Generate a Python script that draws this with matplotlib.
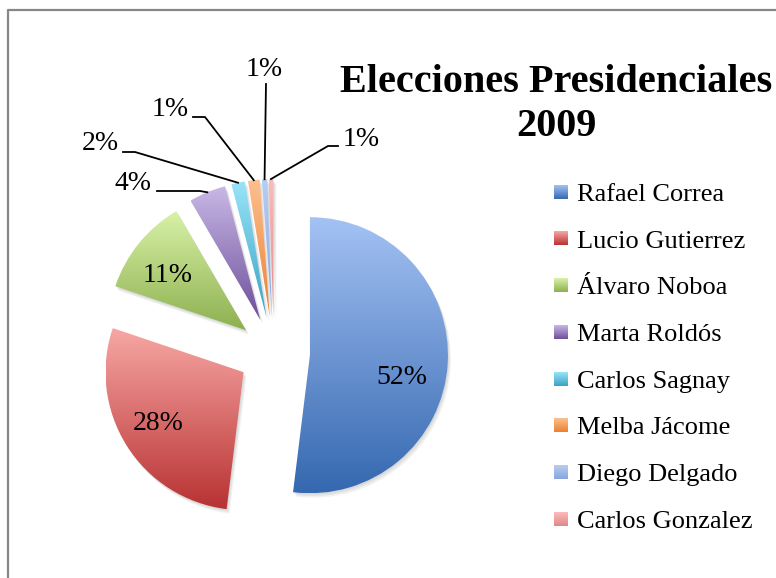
import numpy as np
import matplotlib.pyplot as plt
from matplotlib.patches import Wedge
from matplotlib.lines import Line2D
from matplotlib.colors import to_rgb

# Resultados 2009 (porcentaje de votos validos)
candidatos = ['Rafael Correa', 'Lucio Gutierrez', 'Álvaro Noboa', 'Marta Roldós',
              'Carlos Sagnay', 'Melba Jácome', 'Diego Delgado', 'Carlos Gonzalez']
votos = [51.99, 28.24, 11.41, 4.33, 1.57, 1.35, 0.63, 0.55]

# gradient colours, light on top -> dark at the bottom
color_top = ['#a4c2f4', '#f7a8a5', '#d8f2a8', '#c8b8e6', '#98e4f8', '#fcc090', '#b8cdf2', '#fbbcbc']
color_bot = ['#3568b0', '#b83232', '#8eb050', '#6e4f9a', '#3aa2c4', '#ec8030', '#88a6dc', '#e08888']

W, H = 776, 578
serif = ['Liberation Serif', 'DejaVu Serif']

fig = plt.figure(figsize=(W / 100, H / 100), dpi=100)
ax = fig.add_axes([0, 0, 1, 1])

# pie in pixel-like data units (explode is absolute here, not relative)
cx, cy, r = 274, H - 353, 138
wedges, texts, autotexts = ax.pie(votos, center=(cx, cy), radius=r, startangle=90,
                                  counterclock=False, explode=[36] * len(votos),
                                  autopct=lambda p: '%.0f%%' % p, pctdistance=0.69,
                                  textprops=dict(fontsize=20, family=serif))

n = 256
t = np.linspace(0, 1, n)[:, None]


def gradient(ct, cb):
    return ((1 - t) * np.array(to_rgb(cb)) + t * np.array(to_rgb(ct)))[:, None, :]


# soft shadow + gradient fill clipped to each wedge
for w, ct, cb in zip(wedges, color_top, color_bot):
    for dx, dy in [(1, -1.5), (2, -3), (3, -4.5)]:
        ax.add_patch(Wedge((w.center[0] + dx, w.center[1] + dy), w.r, w.theta1, w.theta2,
                           facecolor='k', edgecolor='none', alpha=0.05, zorder=0.5))
    w.set_facecolor('none')
    w.set_edgecolor('none')
    x0, y0, x1, y1 = w.get_path().get_extents().extents
    im = ax.imshow(gradient(ct, cb), extent=(x0, x1, y0, y1), origin='lower', aspect='auto',
                   interpolation='bilinear', zorder=1)
    im.set_clip_path(w)

# inner labels (screen px positions)
inner_pos = {0: (402, 378), 1: (158, 423), 2: (168, 276)}
for i, (x, y) in inner_pos.items():
    autotexts[i].set_position((x, H - y))
    autotexts[i].set_ha('center')
    autotexts[i].set_va('center')

# outer labels with leader lines: text centre, line start, elbow (screen px)
outer = {
    3: ((133, 183), (157, 191), (200, 191)),
    4: ((100, 144), (123, 152), (135, 152)),
    5: ((170, 110), (193, 117), (205, 117)),
    6: ((264, 70), (266, 84), (266, 84)),
    7: ((361, 140), (338, 146), (328, 146)),
}
for i, (tpos, p0, p1) in outer.items():
    w = wedges[i]
    mid = np.deg2rad((w.theta1 + w.theta2) / 2)
    anchor = (w.center[0] + w.r * np.cos(mid), w.center[1] + w.r * np.sin(mid))
    autotexts[i].set_position((tpos[0], H - tpos[1]))
    autotexts[i].set_ha('center')
    autotexts[i].set_va('center')
    ax.plot([p0[0], p1[0], anchor[0]], [H - p0[1], H - p1[1], anchor[1]],
            color='k', lw=1.3, zorder=3)

ax.set_xlim(0, W)
ax.set_ylim(0, H)
ax.axis('off')

# chart border (runs off to the right and bottom)
ax.plot([8, 8, W + 10], [-10, H - 9.5, H - 9.5], color='#878787', lw=1.6, clip_on=False)

# title
ax.text(556, H - 83, 'Elecciones Presidenciales', ha='center', va='center',
        fontsize=29, weight='bold', family=serif)
ax.text(556, H - 126, '2009', ha='center', va='center',
        fontsize=29, weight='bold', family=serif)

# legend (markers get a gradient overlay after the first draw)
handles = [Line2D([], [], marker='s', linestyle='', markersize=10.5,
                  markerfacecolor='none', markeredgecolor='none') for c in color_top]
leg = ax.legend(handles, candidatos, loc='upper left', bbox_to_anchor=(543 / W, 1 - 172 / H),
                frameon=False, handlelength=0.6, handletextpad=0.3, labelspacing=0.88,
                borderaxespad=0, prop=dict(family=serif, size=19))

fig.canvas.draw()
half = 7
for h, ct, cb in zip(leg.legend_handles, color_top, color_bot):
    xy = h.get_transform().transform(h.get_xydata()).mean(axis=0)
    px, py = ax.transData.inverted().transform(xy)
    ax.imshow(gradient(ct, cb), extent=(px - half, px + half, py - half, py + half),
              origin='lower', aspect='auto', interpolation='bilinear', zorder=4)

ax.set_xlim(0, W)
ax.set_ylim(0, H)

fig.savefig('out.png', dpi=100, facecolor='white')
